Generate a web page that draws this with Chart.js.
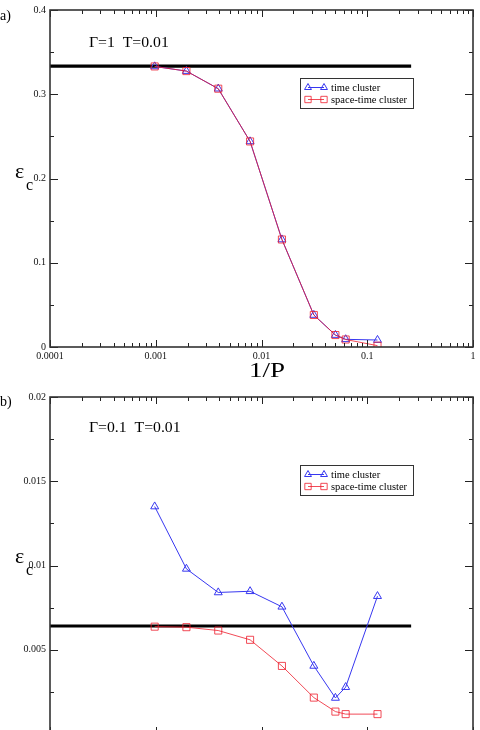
<!DOCTYPE html>
<html><head><meta charset="utf-8">
<script src="https://cdn.jsdelivr.net/npm/chart.js@4.4.1/dist/chart.umd.min.js"></script>
<style>
html,body{margin:0;padding:0;width:480px;height:730px;overflow:hidden;background:#fff;}
canvas{position:absolute;left:0;}
.t{position:absolute;font-family:"Liberation Serif","DejaVu Serif",serif;color:#000;white-space:pre;line-height:1;}
.ann{transform:scaleX(1.05);transform-origin:0 0;}
</style></head><body>
<canvas id="c1" width="480" height="380" style="top:0px"></canvas>
<canvas id="c2" width="480" height="380" style="top:387px"></canvas>
<div class="t" style="left:0px;top:9px;font-size:14px">a)</div>
<div class="t ann" style="left:89px;top:35px;font-size:15px">Γ=1  T=0.01</div>
<div class="t" style="left:15px;top:159.5px;font-size:22px">ε</div>
<div class="t" style="left:26px;top:176.5px;font-size:16px">c</div>
<div class="t" style="left:266.5px;top:359.5px;font-size:20px;transform:translateX(-50%) scaleX(1.35);transform-origin:50% 0">1/P</div>
<div class="t" style="left:0px;top:395px;font-size:14px">b)</div>
<div class="t ann" style="left:89px;top:420px;font-size:15px">Γ=0.1  T=0.01</div>
<div class="t" style="left:15px;top:544.5px;font-size:22px">ε</div>
<div class="t" style="left:26px;top:561.5px;font-size:16px">c</div>
<script>
// ---- data ----
const invP = [0.000977, 0.00195, 0.0039, 0.0078, 0.0156, 0.03125, 0.05, 0.0625, 0.125];
const topTime  = [0.333, 0.3275, 0.3066, 0.244, 0.1276, 0.038, 0.0142, 0.0091, 0.0083];
const topSpace = [0.333, 0.3275, 0.3066, 0.244, 0.1276, 0.038, 0.0142, 0.0089, 0.0016];
const botTime  = [0.0135, 0.0098, 0.0084, 0.00847, 0.00755, 0.00404, 0.00214, 0.00278, 0.00818];
const botSpace = [0.00637, 0.00634, 0.00614, 0.00559, 0.00404, 0.00216, 0.00133, 0.00118, 0.00118];
const refLineX = [0.0001, 0.26];
const topRef = [0.3333, 0.3333];
const botRef = [0.00641, 0.00641];
const xTickLabels = ['0.0001', '0.001', '0.01', '0.1', '1'];
const legendLabels = ['time cluster', 'space-time cluster'];

const BLUE = 'rgb(55,55,240)';
const RED = 'rgba(238,30,45,0.8)';
const FONT = '"Liberation Serif","DejaVu Serif",serif';

function pts(xs, ys) { return xs.map((v, i) => ({x: v, y: ys[i]})); }

function drawMarker(ctx, style, x, y, r) {
  ctx.beginPath();
  if (style === 'triangle') {
    const w = r * Math.sqrt(3) / 2;
    ctx.moveTo(x, y - r);
    ctx.lineTo(x + w, y + r / 2);
    ctx.lineTo(x - w, y + r / 2);
    ctx.closePath();
  } else {
    const s = r * Math.SQRT1_2;
    ctx.rect(x - s, y - s, 2 * s, 2 * s);
  }
  ctx.stroke();
}

const decorPlugin = {
  id: 'decor',
  afterDraw(chart) {
    const {ctx, chartArea: a, scales: {x, y}} = chart;
    ctx.save();
    ctx.strokeStyle = '#222';
    ctx.lineWidth = 1;
    const line = (x1, y1, x2, y2) => { ctx.beginPath(); ctx.moveTo(x1, y1); ctx.lineTo(x2, y2); ctx.stroke(); };
    // x ticks (log decades + minors), inward on bottom and top
    for (let d = -4; d <= 0; d++) {
      for (let k = 1; k <= 9; k++) {
        if (d === 0 && k > 1) break;
        const px = Math.round(x.getPixelForValue(k * Math.pow(10, d))) + 0.5;
        const len = k === 1 ? 7 : 4;
        line(px, a.bottom, px, a.bottom - len);
        line(px, a.top, px, a.top + len);
      }
    }
    // y ticks
    const yv = y.ticks.map(t => t.value);
    yv.forEach((v, i) => {
      const py = Math.round(y.getPixelForValue(v)) + 0.5;
      line(a.left, py, a.left + 8, py);
      line(a.right, py, a.right - 8, py);
      if (i < yv.length - 1) {
        const pm = Math.round(y.getPixelForValue((v + yv[i + 1]) / 2)) + 0.5;
        line(a.left, pm, a.left + 4, pm);
        line(a.right, pm, a.right - 4, pm);
      }
    });
    // frame
    ctx.lineWidth = 1.6;
    ctx.strokeStyle = '#333';
    ctx.strokeRect(a.left, a.top, a.right - a.left, a.bottom - a.top);
    // legend
    const bx = 300.5, by = 78.5, bw = 113, bh = 30;
    ctx.fillStyle = '#fff';
    ctx.fillRect(bx, by, bw, bh);
    ctx.lineWidth = 1;
    ctx.strokeStyle = '#333';
    ctx.strokeRect(bx, by, bw, bh);
    const items = chart.data.datasets.filter(ds => legendLabels.includes(ds.label))
      .sort((p, q) => legendLabels.indexOf(p.label) - legendLabels.indexOf(q.label));
    items.forEach((ds, i) => {
      const cy = by + 9 + i * 12;
      ctx.strokeStyle = ds.borderColor;
      ctx.lineWidth = 1;
      line(308, cy, 324, cy);
      drawMarker(ctx, ds.pointStyle, 308, cy, ds.pointStyle === 'triangle' ? 4 : 4.5);
      drawMarker(ctx, ds.pointStyle, 324, cy, ds.pointStyle === 'triangle' ? 4 : 4.5);
      ctx.fillStyle = '#000';
      ctx.font = '10.5px ' + FONT;
      ctx.textBaseline = 'middle';
      ctx.textAlign = 'left';
      ctx.fillText(ds.label, 331, cy + 0.5);
    });
    ctx.restore();
  }
};

function makeChart(id, timeVals, spaceVals, refVals, ymax, ystep) {
  return new Chart(document.getElementById(id), {
    type: 'line',
    data: {
      datasets: [
        {label: legendLabels[1], data: pts(invP, spaceVals), borderColor: RED, borderWidth: 1,
         pointStyle: 'rect', pointRadius: 5, pointBorderWidth: 1, pointBorderColor: RED,
         pointBackgroundColor: 'rgba(0,0,0,0)', tension: 0, order: 1},
        {label: legendLabels[0], data: pts(invP, timeVals), borderColor: BLUE, borderWidth: 1,
         pointStyle: 'triangle', pointRadius: 4.6, pointBorderWidth: 1, pointBorderColor: BLUE,
         pointBackgroundColor: 'rgba(0,0,0,0)', tension: 0, order: 2},
        {label: 'ref', data: pts(refLineX, refVals), borderColor: '#000', borderWidth: 3.2,
         pointRadius: 0, tension: 0, order: 3}
      ]
    },
    options: {
      responsive: false,
      animation: false,
      devicePixelRatio: 1,
      layout: {padding: {left: 0, right: 7, top: 9.5, bottom: 0}},
      plugins: {legend: {display: false}, tooltip: {enabled: false}},
      scales: {
        x: {
          type: 'logarithmic', min: 0.0001, max: 1,
          grid: {display: false, drawTicks: false}, border: {display: false},
          afterFit: s => { s.height = 33; },
          ticks: {
            autoSkip: false, maxRotation: 0, padding: 3, color: '#111',
            font: {family: FONT, size: 10},
            callback: v => {
              const l = Math.log10(v);
              if (Math.abs(l - Math.round(l)) < 1e-6) return xTickLabels[Math.round(l) + 4];
              return '';
            }
          }
        },
        y: {
          type: 'linear', min: 0, max: ymax,
          grid: {display: false, drawTicks: false}, border: {display: false},
          afterFit: s => { s.width = 50; },
          ticks: {
            stepSize: ystep, padding: 4, color: '#111',
            font: {family: FONT, size: 10},
            callback: v => String(+v.toFixed(4))
          }
        }
      }
    },
    plugins: [decorPlugin]
  });
}

makeChart('c1', topTime, topSpace, topRef, 0.4, 0.1);
makeChart('c2', botTime, botSpace, botRef, 0.02, 0.005);
</script>
</body></html>
